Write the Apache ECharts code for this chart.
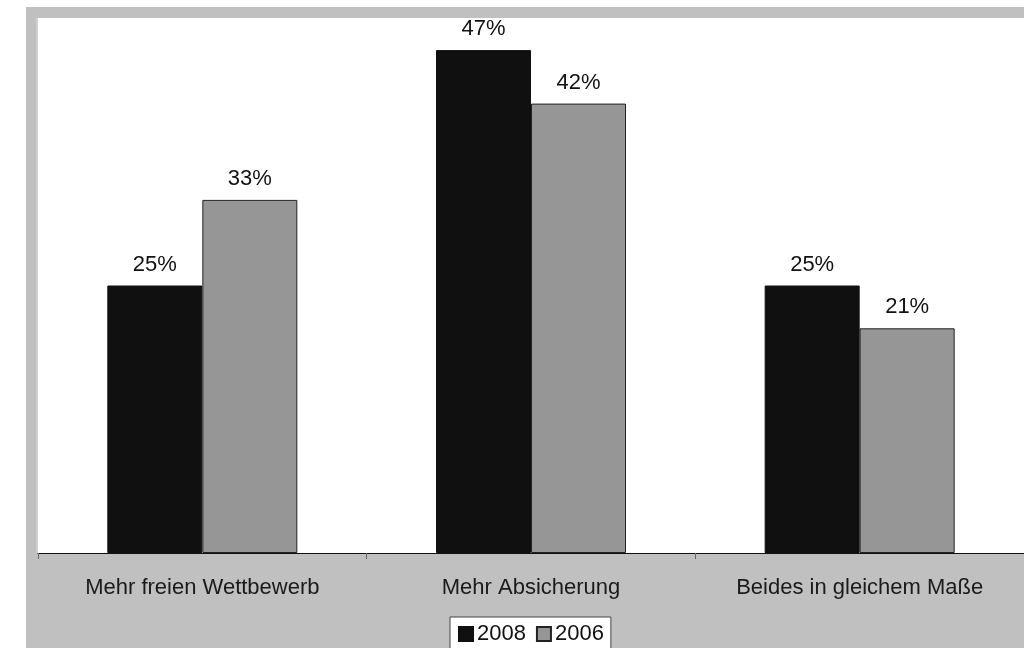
<!DOCTYPE html>
<html>
<head>
<meta charset="utf-8">
<script src="https://cdn.jsdelivr.net/npm/echarts@6/dist/echarts.min.js"></script>
<style>
  html, body { margin: 0; padding: 0; background: #ffffff; }
  #chart { width: 1024px; height: 648px; }
</style>
</head>
<body>
<div id="chart"></div>
<script>
// Survey answers, share of respondents in percent
const categories = ['Mehr freien Wettbewerb', 'Mehr Absicherung', 'Beides in gleichem Maße'];
const values2008 = [25, 47, 25];
const values2006 = [33, 42, 21];
const seriesNames = ['2008', '2006'];

const FONT = 'Liberation Sans, Arial, sans-serif';
const chart = echarts.init(document.getElementById('chart'), null, { renderer: 'canvas' });

const labelStyle = {
  show: true,
  position: 'top',
  distance: 10,
  formatter: '{c}%',
  color: '#111111',
  fontFamily: FONT,
  fontSize: 22
};

chart.setOption({
  backgroundColor: '#ffffff',
  animation: false,
  graphic: [
    // grey frame around the plot area
    { type: 'rect', z: -10, silent: true, shape: { x: 26, y: 7, width: 1000, height: 645 }, style: { fill: '#c0c0c0' } },
    { type: 'rect', z: -9, silent: true, shape: { x: 36, y: 18, width: 2, height: 535 }, style: { fill: '#cfcfcf' } }
  ],
  grid: {
    left: 38, top: 18, right: -1, bottom: 95,
    show: true, backgroundColor: '#ffffff', borderWidth: 0
  },
  legend: {
    data: seriesNames,
    left: 450, top: 617,
    padding: [6, 7, 6, 8],
    backgroundColor: '#ffffff',
    borderColor: '#444444', borderWidth: 1,
    itemWidth: 14, itemHeight: 14, itemGap: 10,
    icon: 'rect',
    textStyle: { fontFamily: FONT, fontSize: 22, color: '#111111', padding: [0, 0, 0, -1] }
  },
  xAxis: {
    type: 'category',
    data: categories,
    axisLine: { show: true, lineStyle: { color: '#111111', width: 1 } },
    axisTick: { show: true, alignWithLabel: false, length: 6, lineStyle: { color: '#666666' } },
    axisLabel: { margin: 24, color: '#1a1a1a', fontFamily: FONT, fontSize: 22, interval: 0 }
  },
  yAxis: {
    type: 'value',
    min: 0, max: 50, interval: 10,
    show: false,
    splitLine: { show: false }
  },
  series: [
    {
      name: seriesNames[0], type: 'bar', data: values2008,
      barWidth: 95, barGap: '0%',
      itemStyle: { color: '#101010', borderColor: '#101010', borderWidth: 1 },
      label: labelStyle
    },
    {
      name: seriesNames[1], type: 'bar', data: values2006,
      barWidth: 95, barGap: '0%',
      itemStyle: { color: '#969696', borderColor: '#222222', borderWidth: 1 },
      label: labelStyle
    }
  ]
});
</script>
</body>
</html>
